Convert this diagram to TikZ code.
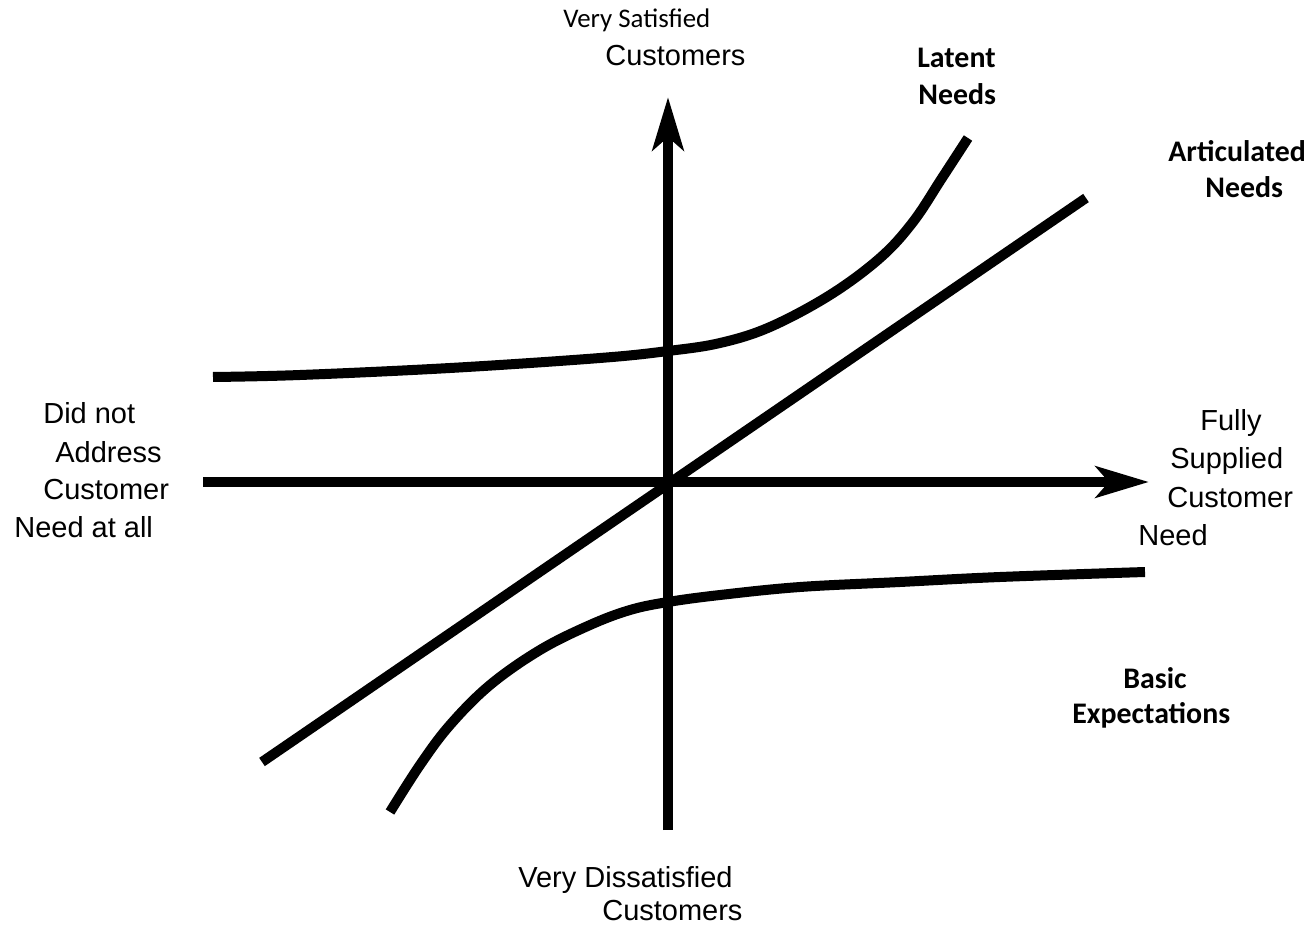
\documentclass[tikz,border=0pt]{standalone}
\usepackage{fontspec}
\setmainfont{Liberation Sans}
\newfontfamily\calibri{Carlito}
\usetikzlibrary{arrows.meta}

\begin{document}
\begin{tikzpicture}[x=0.02cm,y=-0.02cm,
      thick line/.style={line width=0.2cm},
      lbl/.style={anchor=base west,inner sep=0pt,font=\fontsize{16.5}{19}\selectfont},
      small lbl/.style={anchor=base west,inner sep=0pt,font=\calibri\fontsize{15.3}{18}\selectfont},
      tag/.style={anchor=base west,inner sep=0pt,font=\calibri\bfseries\fontsize{17}{20}\selectfont},
      >={Stealth[length=1.06cm,width=0.62cm,inset=0.26cm]}]
    \useasboundingbox (0,0) rectangle (1309,929);
    % axes
    \coordinate (ybot) at (668,830);
    \coordinate (ytop) at (668,97);
    \coordinate (xleft) at (203,482);
    \coordinate (xright) at (1149,482);
    \draw[thick line,->] (ybot) -- (ytop);
    \draw[thick line,->] (xleft) -- (xright);
    % articulated needs
    \coordinate (artlo) at (262,762);
    \coordinate (arthi) at (1086,198);
    \draw[thick line] (artlo) -- (arthi);
    % latent needs
    \draw[thick line] plot[smooth,tension=0.6] coordinates {(213,377) (300,375) (450,368) (600,358) (668,351)
      (720,343) (770,327) (830,295) (880,258) (913,222) (942,178) (968,138)};
    % basic expectations
    \draw[thick line] plot[smooth,tension=0.6] coordinates {(390,812) (420,765) (450,725) (490,685) (540,650)
      (590,625) (630,610) (668,602) (720,595) (800,587) (900,582) (1000,577) (1145,572)};
    % labels
    \node[small lbl] (vsat) at (563,28) {Very Satisfied};
    \node[lbl] (vsatc) at (605,66) {Customers};
    \node[tag] (lat1) at (917,68) {Latent};
    \node[tag] (lat2) at (918,105) {Needs};
    \node[tag] (art1) at (1168,162) {Articulated};
    \node[tag] (art2) at (1205,198) {Needs};
    \node[lbl] (dn1) at (43,423) {Did not};
    \node[lbl] (dn2) at (55,462) {Address};
    \node[lbl] (dn3) at (43,499) {Customer};
    \node[lbl] (dn4) at (14,537) {Need at all};
    \node[lbl] (fs1) at (1200,430) {Fully};
    \node[lbl] (fs2) at (1170,468) {Supplied};
    \node[lbl] (fs3) at (1167,507) {Customer};
    \node[lbl] (fs4) at (1138,545) {Need};
    \node[tag] (bas1) at (1123,688) {Basic};
    \node[tag] (bas2) at (1072,723) {Expectations};
    \node[lbl] (vdis) at (518,887) {Very Dissatisfied};
    \node[lbl] (vdisc) at (602,920) {Customers};
\end{tikzpicture}
\end{document}
